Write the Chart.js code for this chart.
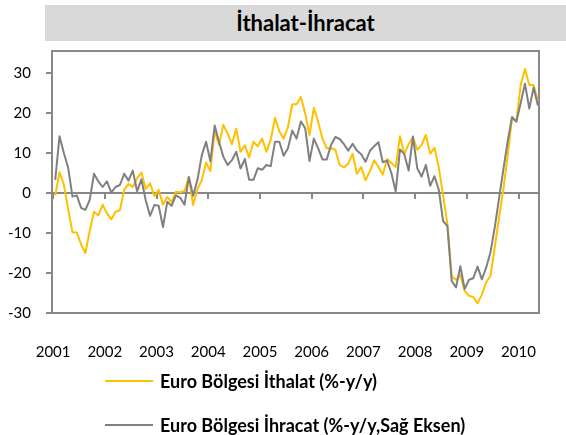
<!DOCTYPE html>
<html lang="tr">
<head>
<meta charset="utf-8">
<title>İthalat-İhracat</title>
<script src="https://cdn.jsdelivr.net/npm/chart.js@4.4.1/dist/chart.umd.min.js"></script>
<style>
  body { margin: 0; background: #fff; font-family: Lato, "Open Sans", sans-serif; }
  #wrap { position: relative; width: 566px; height: 435px; }
  #title { position: absolute; left: 45px; top: 5px; width: 521px; height: 36px; background: #d9d9d9;
           font-weight: bold; font-size: 22px; line-height: 36px; text-align: center; color: #000; }
  #legend { position: absolute; left: 105px; top: 359px; }
  .item { display: flex; align-items: center; height: 44px; font-weight: bold; font-size: 18px; color: #000; white-space: nowrap; }
  .swatch { width: 48px; height: 2px; margin-right: 7px; }
</style>
</head>
<body>
<div id="wrap">
  <canvas id="chart" width="566" height="435"></canvas>
  <div id="title">İthalat-İhracat</div>
  <div id="legend"></div>
</div>
<script>
// monthly yoy changes, Jan 2001 - May 2010
var years = ['2001', '2002', '2003', '2004', '2005', '2006', '2007', '2008', '2009', '2010']
var yTicks = [-30, -20, -10, 0, 10, 20, 30]

var imports = [
  -0.6, 5.2, 2.1, -4.1, -9.8, -9.9, -12.8, -15.0, -9.5, -4.7,
  -5.6, -2.9, -5.1, -6.6, -4.7, -4.3, 0.8, 2.3, 1.5, 3.7,
  5.1, 1.0, 2.4, -0.8, 0.8, -2.9, -1.0, -2.3, 0.3, 0.2,
  0.5, 4.0, -3.0, 1.0, 3.2, 7.6, 5.5, 15.5, 12.0, 17.0,
  14.9, 12.2, 16.1, 10.3, 11.9, 8.9, 12.8, 11.7, 13.6, 10.3,
  13.3, 18.8, 15.4, 13.6, 16.5, 22.2, 22.2, 24.0, 19.9, 14.5,
  21.3, 17.8, 13.6, 11.2, 11.2, 10.8, 7.0, 6.4, 7.4, 9.8,
  4.8, 6.5, 3.2, 5.4, 8.2, 6.5, 4.6, 8.5, 7.5, 6.5,
  14.2, 9.7, 12.2, 14.0, 10.8, 12.0, 14.5, 9.8, 11.3, 6.4,
  -0.6, -7.8, -20.9, -21.7, -20.5, -24.5, -25.7, -26.0, -27.6, -25.4,
  -22.3, -20.7, -13.5, -6.0, 1.0, 9.5, 18.7, 18.0, 27.0, 31.0,
  27.0, 27.0, 23.0
]

var exports = [
  3.3, 14.2, 10.0, 6.3, -0.9, -0.6, -3.7, -4.2, -1.7, 4.8,
  2.9, 1.5, 2.9, 0.1, 1.5, 2.0, 4.8, 3.1, 5.6, 0.4,
  3.4, -1.8, -5.7, -3.0, -3.2, -8.5, -2.2, -3.2, -0.6, -1.2,
  -2.9, 4.0, -0.7, 3.3, 9.4, 12.8, 7.9, 16.9, 12.8, 9.1,
  7.0, 8.2, 10.3, 6.1, 8.5, 3.3, 3.3, 6.2, 5.8, 7.0,
  6.7, 12.8, 12.8, 9.3, 11.2, 15.6, 13.6, 17.9, 16.2, 8.0,
  13.6, 11.2, 8.4, 8.4, 12.0, 14.0, 13.5, 12.2, 10.6, 12.3,
  10.6, 9.7, 7.8, 10.5, 11.7, 12.7, 7.7, 8.1, 5.0, 0.4,
  10.9, 9.7, 5.6, 14.1, 6.2, 4.1, 7.0, 1.8, 4.2, 0.8,
  -7.0, -8.3, -22.0, -23.6, -18.3, -24.0, -21.7, -21.3, -18.4, -21.6,
  -18.6, -14.8, -8.5, -1.2, 6.0, 13.0, 19.0, 17.8, 22.5, 27.3,
  21.1, 26.4, 21.9
]

var axisColor = '#888888'

// each month sits in the middle of its slot
function toPoints(values) {
  return values.map(function (v, i) { return { x: i + 0.5, y: v } })
}

function yearTicks(scale) {
  scale.ticks = years.map(function (y, i) { return { value: i * 12 } })
}

// border round the plot area
var frame = {
  id: 'frame',
  beforeDatasetsDraw: function (chart) {
    var a = chart.chartArea
    var c = chart.ctx
    c.save()
    c.strokeStyle = axisColor
    c.lineWidth = 2
    c.strokeRect(a.left, a.top, a.right - a.left, a.bottom - a.top)
    c.restore()
  }
}

var chart = new Chart(document.getElementById('chart'), {
  type: 'line',
  data: {
    datasets: [{
      label: 'Euro Bölgesi İthalat (%-y/y)',
      data: toPoints(imports),
      borderColor: '#FFC000',
      backgroundColor: '#FFC000',
      order: 2
    }, {
      label: 'Euro Bölgesi İhracat (%-y/y,Sağ Eksen)',
      data: toPoints(exports),
      borderColor: '#808080',
      backgroundColor: '#808080',
      order: 1
    }]
  },
  options: {
    responsive: false,
    animation: false,
    devicePixelRatio: 1,
    layout: { padding: { top: 51, right: 2, left: 0, bottom: 0 } },
    elements: {
      point: { radius: 0 },
      line: { borderWidth: 2, tension: 0, borderJoinStyle: 'round' }
    },
    plugins: {
      legend: { display: false },
      tooltip: { enabled: false }
    },
    scales: {
      x: {
        type: 'linear',
        position: 'bottom',
        min: -0.25,
        max: 112.75,
        afterBuildTicks: yearTicks,
        afterFit: function (scale) { scale.height = 122 },
        grid: { display: false, drawTicks: false },
        border: { display: false },
        ticks: {
          padding: 30,
          maxRotation: 0,
          autoSkip: false,
          color: '#000',
          font: { family: 'Lato', size: 15 },
          callback: function (value) { return years[value / 12] }
        }
      },
      // zero line with the year tick marks
      x2: {
        type: 'linear',
        position: { y: 0 },
        min: -0.25,
        max: 112.75,
        afterBuildTicks: yearTicks,
        grid: { drawOnChartArea: false, drawTicks: true, tickLength: 5, color: axisColor, lineWidth: 2 },
        border: { display: true, color: axisColor, width: 2 },
        ticks: { display: false }
      },
      y: {
        min: -30,
        max: 35.5,
        afterBuildTicks: function (scale) {
          scale.ticks = yTicks.map(function (v) { return { value: v } })
        },
        afterFit: function (scale) { scale.width = 52 },
        grid: { drawOnChartArea: false, drawTicks: true, tickLength: 6, color: axisColor, lineWidth: 2 },
        border: { display: true, color: axisColor, width: 2 },
        ticks: {
          padding: 15,
          color: '#000',
          font: { family: 'Lato', size: 15 }
        }
      }
    }
  },
  plugins: [frame]
})

// legend rows, in the same order as the datasets
var legend = document.getElementById('legend')
chart.data.datasets.forEach(function (ds) {
  var row = document.createElement('div')
  row.className = 'item'
  row.innerHTML = '<span class="swatch" style="background:' + ds.borderColor + '"></span>' + ds.label
  legend.appendChild(row)
})
</script>
</body>
</html>
